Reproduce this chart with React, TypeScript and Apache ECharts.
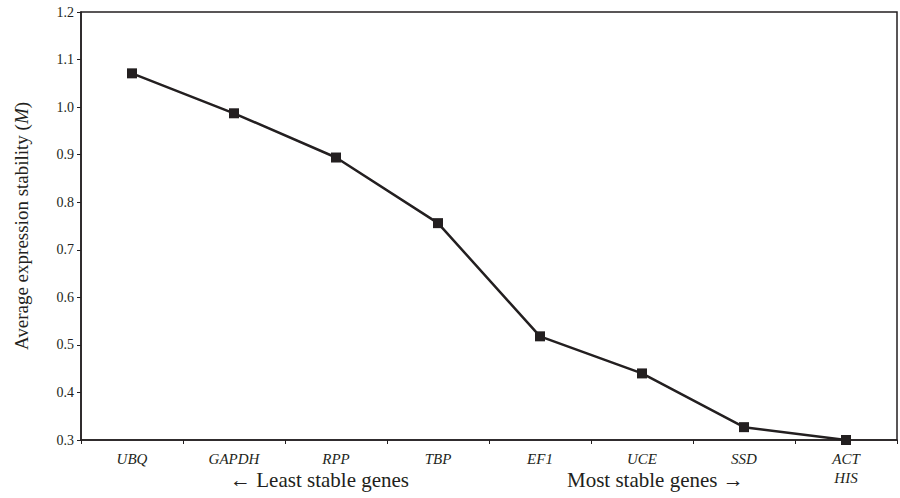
import React, { useEffect, useRef } from "react";
import * as echarts from "echarts";

const categories = ["UBQ", "GAPDH", "RPP", "TBP", "EF1", "UCE", "SSD", "ACT\nHIS"];
const stabilityM = [1.071, 0.987, 0.894, 0.756, 0.518, 0.44, 0.327, 0.3];
const yTicks = { min: 0.3, max: 1.2, interval: 0.1 };
const footLeft = "\u2190 Least stable genes";
const footRight = "Most stable genes \u2192";

const INK = "#231f20";
const SERIF = "Liberation Serif";

export default function App() {
  const ref = useRef<HTMLDivElement>(null);
  useEffect(() => {
    if (!ref.current) return;
    const chart = echarts.init(ref.current, undefined, { renderer: "svg" });
    chart.setOption({
      animation: false,
      backgroundColor: "#ffffff",
      textStyle: { fontFamily: SERIF },
      grid: { left: 81, right: 3, top: 12, bottom: 58, show: true, borderColor: INK, borderWidth: 1.5 },
      xAxis: {
        type: "category",
        data: categories,
        boundaryGap: true,
        axisLine: { lineStyle: { color: INK, width: 1.5 } },
        axisTick: { show: true, inside: false, length: 4, lineStyle: { color: INK } },
        axisLabel: {
          fontFamily: SERIF,
          fontStyle: "italic",
          fontSize: 15,
          color: INK,
          margin: 9,
          lineHeight: 19,
        },
      },
      yAxis: {
        type: "value",
        min: yTicks.min,
        max: yTicks.max,
        interval: yTicks.interval,
        splitLine: { show: false },
        axisLine: { show: true, lineStyle: { color: INK, width: 1.5 } },
        axisTick: { show: true, inside: false, length: 4, lineStyle: { color: INK } },
        axisLabel: {
          fontFamily: SERIF,
          fontSize: 14,
          color: INK,
          margin: 7,
          formatter: (v: number) => v.toFixed(1),
        },
        name: "{n|Average expression stability (}{i|M}{n|)}",
        nameLocation: "middle",
        nameGap: 50,
        nameRotate: 90,
        nameTextStyle: {
          fontFamily: SERIF,
          rich: {
            n: { fontFamily: SERIF, fontSize: 19, color: INK },
            i: { fontFamily: SERIF, fontSize: 19, color: INK, fontStyle: "italic" },
          },
        },
      },
      series: [
        {
          type: "line",
          data: stabilityM,
          symbol: "rect",
          symbolSize: 10,
          itemStyle: { color: INK },
          lineStyle: { color: INK, width: 2.5 },
          z: 5,
        },
      ],
      graphic: [
        {
          type: "text",
          left: 230,
          top: 469,
          style: { text: footLeft, fontFamily: SERIF, fontSize: 21, fill: INK },
        },
        {
          type: "text",
          left: 567,
          top: 469,
          style: { text: footRight, fontFamily: SERIF, fontSize: 21, fill: INK },
        },
      ],
    });
    return () => chart.dispose();
  }, []);
  return <div ref={ref} style={{ width: 900, height: 498, position: "absolute", left: 0, top: 0 }} />;
}
